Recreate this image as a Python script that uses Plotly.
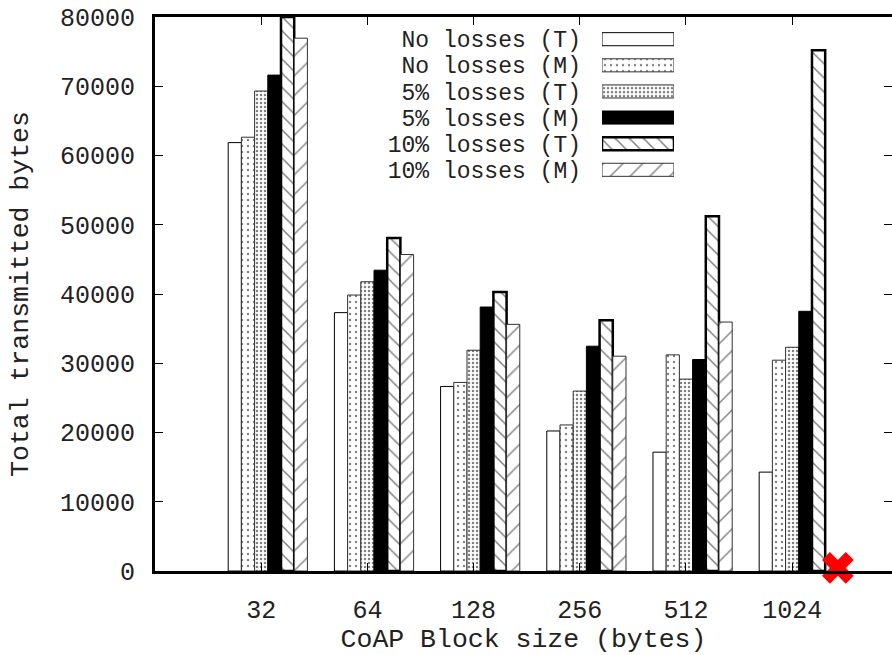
import plotly.graph_objects as go

# ---- data ----
block_sizes = ["32", "64", "128", "256", "512", "1024"]
series_names = ["No losses (T)", "No losses (M)", "5% losses (T)",
                "5% losses (M)", "10% losses (T)", "10% losses (M)"]
no_loss_T = [61860, 37310, 26650, 20220, 17160, 14280]
no_loss_M = [62640, 39850, 27230, 21090, 31210, 30440]
loss5_T = [69310, 41770, 31880, 25980, 27710, 32310]
loss5_M = [71610, 43440, 38120, 32460, 30540, 37500]
loss10_T = [80000, 48100, 40280, 36200, 51210, 75200]
loss10_M = [76940, 45700, 35620, 31020, 35950, None]
y_ticks = [0, 10000, 20000, 30000, 40000, 50000, 60000, 70000, 80000]
y_tick_labels = ["0", "10000", "20000", "30000", "40000", "50000",
                 "60000", "70000", "80000"]
failed_label_x = [5.43]   # marker for the missing 1024/10% (M) run
failed_label_y = [450]

series_values = [no_loss_T, no_loss_M, loss5_T, loss5_M, loss10_T, loss10_M]

# ---- styles ----
FONT = "Liberation Mono"
TXT = "#222"
BAR_W = 0.1243
SHIFT = 0.0622
styles = [
    dict(color="white", line=dict(color="black", width=1)),
    dict(color="white", line=dict(color="#333", width=1),
         pattern=dict(shape=".", fgcolor="black", bgcolor="white", size=6,
                      solidity=0.12, fillmode="overlay")),
    dict(color="white", line=dict(color="#333", width=1),
         pattern=dict(shape=".", fgcolor="black", bgcolor="white", size=4,
                      solidity=0.3, fillmode="overlay")),
    dict(color="black", line=dict(color="black", width=1)),
    dict(color="white", line=dict(color="black", width=2.5),
         pattern=dict(shape="\\", fgcolor="black", bgcolor="white", size=10,
                      solidity=0.15, fillmode="overlay")),
    dict(color="white", line=dict(color="#333", width=1),
         pattern=dict(shape="/", fgcolor="black", bgcolor="white", size=14,
                      solidity=0.1, fillmode="overlay")),
]

fig = go.Figure()
x_idx = list(range(len(block_sizes)))
for k, (name, vals, st) in enumerate(zip(series_names, series_values, styles)):
    fig.add_trace(go.Bar(
        x=x_idx, y=vals, name=name, width=BAR_W,
        offset=SHIFT - 3 * BAR_W + k * BAR_W,
        marker=st, showlegend=False, xaxis="x", yaxis="y",
    ))

# right-side ticks (overlay axis)
fig.add_trace(go.Scatter(x=[None], y=[None], xaxis="x", yaxis="y2",
                         showlegend=False, hoverinfo="skip"))

# failure marker
fig.add_trace(go.Scatter(
    x=failed_label_x, y=failed_label_y, mode="markers",
    marker=dict(symbol="x", size=28, color="red", line=dict(width=0)),
    showlegend=False, cliponaxis=False, xaxis="x", yaxis="y",
))

# custom legend: samples on the right of the labels
for name, st in zip(series_names, styles):
    fig.add_trace(go.Bar(
        x=[1], y=[name], orientation="h", width=0.5, base=0,
        marker=st, showlegend=False, xaxis="x3", yaxis="y3",
        hoverinfo="skip",
    ))

tickfont = dict(family=FONT, size=25, color=TXT)
titlefont = dict(family=FONT, size=26.5, color=TXT)
fig.update_layout(
    width=892, height=655,
    margin=dict(l=155, r=0, t=17, b=82),
    paper_bgcolor="white", plot_bgcolor="white",
    barmode="overlay",
    font=dict(family=FONT, color=TXT),
    xaxis=dict(
        range=[-1, 5.94], tickmode="array", tickvals=x_idx, ticktext=block_sizes,
        showline=True, linecolor="black", linewidth=3, mirror="ticks",
        ticks="inside", ticklen=8, tickwidth=1, tickcolor="black",
        showgrid=False, zeroline=False, tickfont=tickfont,
        ticklabelstandoff=14,
        title=dict(text="CoAP Block size (bytes)", font=titlefont, standoff=10),
    ),
    yaxis=dict(
        range=[0, 80000], tickmode="array", tickvals=y_ticks,
        ticktext=y_tick_labels,
        showline=True, linecolor="black", linewidth=3, mirror=False,
        ticks="inside", ticklen=8, tickwidth=1, tickcolor="black",
        showgrid=False, zeroline=False, tickfont=tickfont,
        ticklabelstandoff=12,
        title=dict(text="Total transmitted bytes", font=titlefont, standoff=24),
    ),
    yaxis2=dict(
        overlaying="y", side="right", range=[0, 80000], tickmode="array",
        tickvals=y_ticks,
        showticklabels=False, ticks="inside", ticklen=8, tickwidth=1,
        tickcolor="black", showline=False, showgrid=False, zeroline=False,
    ),
    xaxis3=dict(domain=[0.6065, 0.7042], range=[0, 1], visible=False,
                anchor="y3", fixedrange=True),
    yaxis3=dict(domain=[0.7006, 0.9835], anchor="x3",
                categoryorder="array", categoryarray=series_names[::-1],
                tickmode="array", tickvals=series_names,
                showline=False, showgrid=False, zeroline=False, ticks="",
                ticklabelstandoff=20,
                tickfont=dict(family=FONT, size=23, color=TXT)),
)

fig.write_html("out.html")
